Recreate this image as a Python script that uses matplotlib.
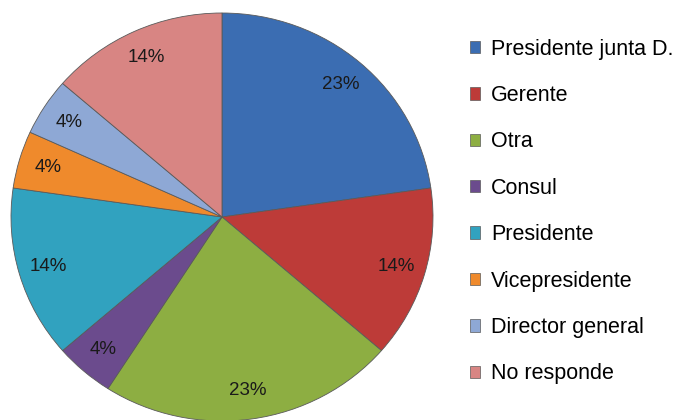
import matplotlib.pyplot as plt

# datos del grafico de torta
cargos = ["Presidente junta D.", "Gerente", "Otra", "Consul", "Presidente",
          "Vicepresidente", "Director general", "No responde"]
respuestas = [5, 3, 5, 1, 3, 1, 1, 3]
etiquetas = ["23%", "14%", "23%", "4%", "14%", "4%", "4%", "14%"]
colores = ["#3B6DB2", "#BD3B38", "#8DAE42", "#6B4B8D", "#31A2BF",
           "#EF8A2C", "#8EA8D5", "#D88583"]

plt.rcParams['font.family'] = ['Liberation Sans', 'DejaVu Sans']

fig = plt.figure(figsize=(6.83, 4.2), dpi=100)
# la torta es un poco achatada en el original
ax = fig.add_axes([11/683, (420-217-204)/420, 422/683, 408/420])

wedges, textos, pcts = ax.pie(respuestas, colors=colores, startangle=90, counterclock=False,
                              autopct="%.0f%%", pctdistance=0.86,
                              wedgeprops=dict(edgecolor="#5a5a5a", linewidth=0.6),
                              textprops=dict(fontsize=13.5, color="#1a1a1a"))
for t, e in zip(pcts, etiquetas):
    t.set_text(e)
ax.set_xlim(-1, 1)
ax.set_ylim(-1, 1)
ax.set_aspect("auto")

leg = fig.legend(wedges, cargos, loc="upper left", bbox_to_anchor=(461/683, 1 - 30/420),
                 frameon=False, fontsize=15.5, handlelength=0.5, handleheight=0.5,
                 handletextpad=0.5, labelspacing=1.18, borderaxespad=0)
for h in leg.legend_handles:
    h.set_linewidth(0.5)

fig.savefig("out.png", dpi=100)
